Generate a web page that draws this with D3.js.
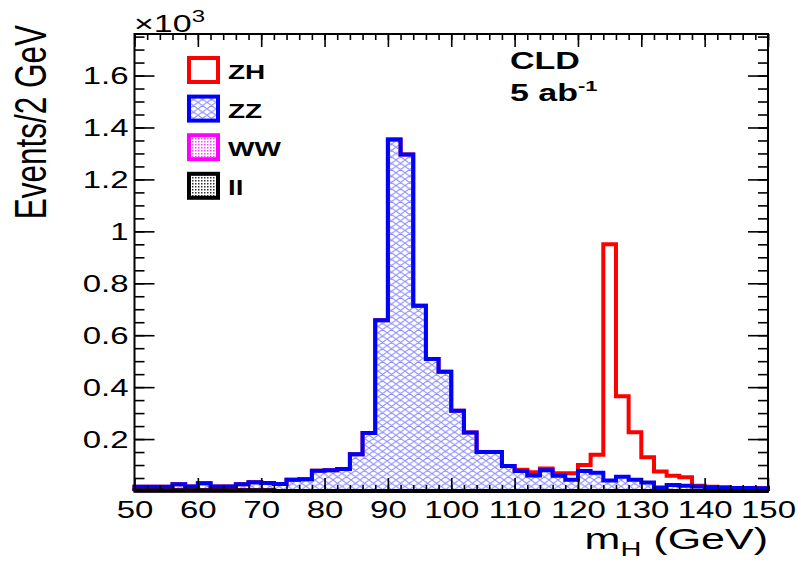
<!DOCTYPE html>
<html>
<head>
<meta charset="utf-8">
<script src="https://cdn.jsdelivr.net/npm/d3@7"></script>
<style>
  body { margin: 0; background: #fff; }
  svg { font-family: "Liberation Sans", Arial, Helvetica, sans-serif; }
</style>
</head>
<body>
<script>
const W = 798, H = 561;
const margin = {left: 134.5, right: 30, top: 34, bottom: 70};

// bin low edges, 2 GeV wide
const binLow = d3.range(50, 150, 2);

// events per bin (x10^3)
const zz = [0.013, 0.013, 0.013, 0.023, 0.014, 0.027, 0.014, 0.014, 0.023, 0.031,
            0.028, 0.027, 0.043, 0.045, 0.078, 0.080, 0.085, 0.142, 0.223, 0.658,
            1.354, 1.296, 0.713, 0.508, 0.459, 0.309, 0.225, 0.150, 0.150, 0.096,
            0.077, 0.060, 0.080, 0.059, 0.043, 0.077, 0.070, 0.040, 0.055, 0.043,
            0.033, 0.013, 0.023, 0.020, 0.017, 0.014, 0.013, 0.012, 0.012, 0.011];
const zh = [0, 0, 0, 0, 0, 0, 0, 0, 0, 0,
            0, 0, 0, 0, 0, 0, 0, 0, 0, 0,
            0, 0, 0, 0, 0, 0, 0, 0, 0, 0,
            0.005, 0.012, 0.007, 0.009, 0.025, 0.023, 0.070, 0.910, 0.310, 0.183,
            0.097, 0.062, 0.036, 0.033, 0.003, 0.002, 0, 0, 0, 0];
const ww = [0, 0, 0, 0, 0, 0, 0, 0, 0, 0,
            0, 0, 0, 0, 0, 0, 0, 0, 0, 0,
            0, 0, 0, 0, 0, 0, 0, 0, 0, 0,
            0, 0, 0, 0, 0, 0, 0, 0, 0, 0,
            0, 0, 0, 0, 0, 0, 0, 0, 0, 0];
const ll = [0.003, 0.003, 0.003, 0.003, 0.003, 0.003, 0.003, 0.003, 0.003, 0.003,
            0.003, 0, 0, 0, 0, 0, 0, 0, 0, 0,
            0, 0, 0, 0, 0, 0, 0, 0, 0, 0,
            0, 0, 0, 0, 0, 0, 0, 0, 0, 0,
            0, 0, 0, 0, 0, 0, 0, 0, 0, 0];

const xTicks = [50, 60, 70, 80, 90, 100, 110, 120, 130, 140, 150];
const yTicks = [0.2, 0.4, 0.6, 0.8, 1.0, 1.2, 1.4, 1.6];
const legendItems = [
  {key: 'zh', label: 'ZH', color: '#ff0000', fill: 'none'},
  {key: 'zz', label: 'ZZ', color: '#0000ff', fill: 'url(#hatchBlue)'},
  {key: 'ww', label: 'WW', color: '#ff00ff', fill: 'url(#dotMagenta)'},
  {key: 'll', label: 'll', color: '#000000', fill: 'url(#dotBlack)'}
];

const sy = 0.7; // the canvas was squeezed vertically

const svg = d3.select('body').append('svg')
  .attr('width', W)
  .attr('height', H);

// fill patterns
const defs = svg.append('defs');
const hb = defs.append('pattern').attr('id', 'hatchBlue')
  .attr('patternUnits', 'userSpaceOnUse').attr('width', 9).attr('height', 6.4);
hb.append('path').attr('d', 'M0,0L9,6.4M0,6.4L9,0M-1,5.7L1,7.1M8,-0.7L10,0.7')
  .attr('stroke', '#8c8cff').attr('stroke-width', 1).attr('fill', 'none');
const dm = defs.append('pattern').attr('id', 'dotMagenta')
  .attr('patternUnits', 'userSpaceOnUse').attr('width', 3).attr('height', 3);
dm.append('rect').attr('width', 1.5).attr('height', 1.5).attr('fill', '#ff44ff');
const db = defs.append('pattern').attr('id', 'dotBlack')
  .attr('patternUnits', 'userSpaceOnUse').attr('width', 3).attr('height', 3);
db.append('rect').attr('width', 1.5).attr('height', 1.5).attr('fill', '#333');

const x = d3.scaleLinear().domain([50, 150]).range([margin.left, W - margin.right]);
const y = d3.scaleLinear().domain([0, 1.76]).range([H - margin.bottom, margin.top]);

// stack ll -> ww -> zz -> zh, like a THStack
const table = binLow.map((b, i) => ({lo: b, ll: ll[i], ww: ww[i], zz: zz[i], zh: zh[i]}));
const series = d3.stack().keys(['ll', 'ww', 'zz', 'zh'])(table);
const byKey = {};
series.forEach(s => byKey[s.key] = s);

// step points: left edge of every bin plus the right edge of the last one
function steps(s) {
  const pts = s.map(d => ({x: d.data.lo, y0: d[0], y1: d[1]}));
  const last = pts[pts.length - 1];
  pts.push({x: last.x + 2, y0: last.y0, y1: last.y1});
  return pts;
}

const area = d3.area().curve(d3.curveStepAfter)
  .x(d => x(d.x)).y0(y(0)).y1(d => y(d.y1));
const line = d3.line().curve(d3.curveStepAfter)
  .x(d => x(d.x)).y(d => y(d.y1));

const plot = svg.append('g');
['zh', 'zz', 'ww', 'll'].forEach(k => {
  const it = legendItems.find(l => l.key === k);
  const pts = steps(byKey[k]);
  // close the outline down to the baseline at both ends
  const outline = [{x: 50, y1: 0}].concat(pts).concat([{x: 150, y1: 0}]);
  if (it.fill !== 'none') {
    plot.append('path').attr('d', area(pts)).attr('fill', it.fill);
  }
  plot.append('path').attr('d', line(outline))
    .attr('fill', 'none')
    .attr('stroke', it.color)
    .attr('stroke-width', 4)
    .attr('stroke-linejoin', 'miter');
});

// frame and ticks
const bottomY = y(0), topY = margin.top, leftX = x(50), rightX = x(150);

const fmtY = d => d === 1 ? '1' : d3.format('.1f')(d);

const gxB = svg.append('g').attr('transform', `translate(0,${bottomY})`)
  .call(d3.axisBottom(x).tickValues(xTicks).tickSize(-13).tickSizeOuter(0));
svg.append('g').attr('transform', `translate(0,${bottomY})`)
  .call(d3.axisBottom(x).tickValues(d3.range(50, 151, 2)).tickSize(-6).tickFormat('').tickSizeOuter(0));
svg.append('g').attr('transform', `translate(0,${topY})`)
  .call(d3.axisTop(x).tickValues(xTicks).tickSize(-13).tickFormat('').tickSizeOuter(0));
svg.append('g').attr('transform', `translate(0,${topY})`)
  .call(d3.axisTop(x).tickValues(d3.range(50, 151, 2)).tickSize(-6).tickFormat('').tickSizeOuter(0));

const gyL = svg.append('g').attr('transform', `translate(${leftX},0)`)
  .call(d3.axisLeft(y).tickValues(yTicks).tickSize(-20).tickFormat(fmtY).tickSizeOuter(0));
svg.append('g').attr('transform', `translate(${leftX},0)`)
  .call(d3.axisLeft(y).tickValues(d3.range(0.05, 1.76, 0.05)).tickSize(-10).tickFormat('').tickSizeOuter(0));
svg.append('g').attr('transform', `translate(${rightX},0)`)
  .call(d3.axisRight(y).tickValues(yTicks).tickSize(-20).tickFormat('').tickSizeOuter(0));
svg.append('g').attr('transform', `translate(${rightX},0)`)
  .call(d3.axisRight(y).tickValues(d3.range(0.05, 1.76, 0.05)).tickSize(-10).tickFormat('').tickSizeOuter(0));

svg.selectAll('.domain').remove();
svg.selectAll('.tick line').attr('stroke', '#000').attr('stroke-width', 1.6);

gxB.selectAll('.tick text')
  .attr('y', null).attr('dy', null)
  .attr('transform', `translate(0,27) scale(1,${sy})`)
  .attr('font-size', 33).attr('fill', '#000');
gyL.selectAll('.tick text')
  .attr('x', null).attr('dy', '0.36em')
  .attr('transform', `translate(-6,0) scale(1,${sy})`)
  .attr('text-anchor', 'end')
  .attr('font-size', 33).attr('fill', '#000');

// frame
svg.append('rect')
  .attr('x', leftX).attr('y', topY)
  .attr('width', rightX - leftX).attr('height', bottomY - topY)
  .attr('fill', 'none').attr('stroke', '#000').attr('stroke-width', 2);
svg.append('line')
  .attr('x1', leftX - 1).attr('x2', rightX + 1).attr('y1', bottomY).attr('y2', bottomY)
  .attr('stroke', '#000').attr('stroke-width', 3.5);

// squeezed text helper
function label(px, py, opts) {
  const t = svg.append('text')
    .attr('transform', `translate(${px},${py}) scale(1,${sy})` + (opts.rotate ? ` rotate(${opts.rotate})` : ''))
    .attr('font-size', opts.size)
    .attr('font-weight', opts.bold ? 'bold' : 'normal')
    .attr('text-anchor', opts.anchor || 'start')
    .attr('fill', '#000');
  return t;
}

// axis titles
label(46, 25, {size: 45, rotate: -90, anchor: 'end'}).text('Events/2 GeV');
const xt = label(768, 549, {size: 43, anchor: 'end'});
xt.append('tspan').text('m');
xt.append('tspan').attr('font-size', 29).attr('dy', 10).text('H');
xt.append('tspan').attr('dy', -10).text(' (GeV)');

// x10^3
const ex = label(134, 32, {size: 34});
ex.append('tspan').text('\u00d710');
ex.append('tspan').attr('font-size', 24).attr('dy', -14).text('3');

// CLD tag
label(510, 69, {size: 34, bold: true}).text('CLD');
const lum = label(510, 101, {size: 34, bold: true});
lum.append('tspan').text('5 ab');
lum.append('tspan').attr('font-size', 22).attr('dy', -14).text('-1');

// legend
const leg = svg.append('g');
legendItems.forEach((it, i) => {
  const ly = 58 + i * 38.6;
  leg.append('rect')
    .attr('x', 189).attr('y', ly).attr('width', 29).attr('height', 24)
    .attr('fill', it.fill === 'none' ? '#fff' : it.fill)
    .attr('stroke', it.color).attr('stroke-width', 4);
  label(228, ly + 21, {size: 28, bold: true}).text(it.label);
});
</script>
</body>
</html>
